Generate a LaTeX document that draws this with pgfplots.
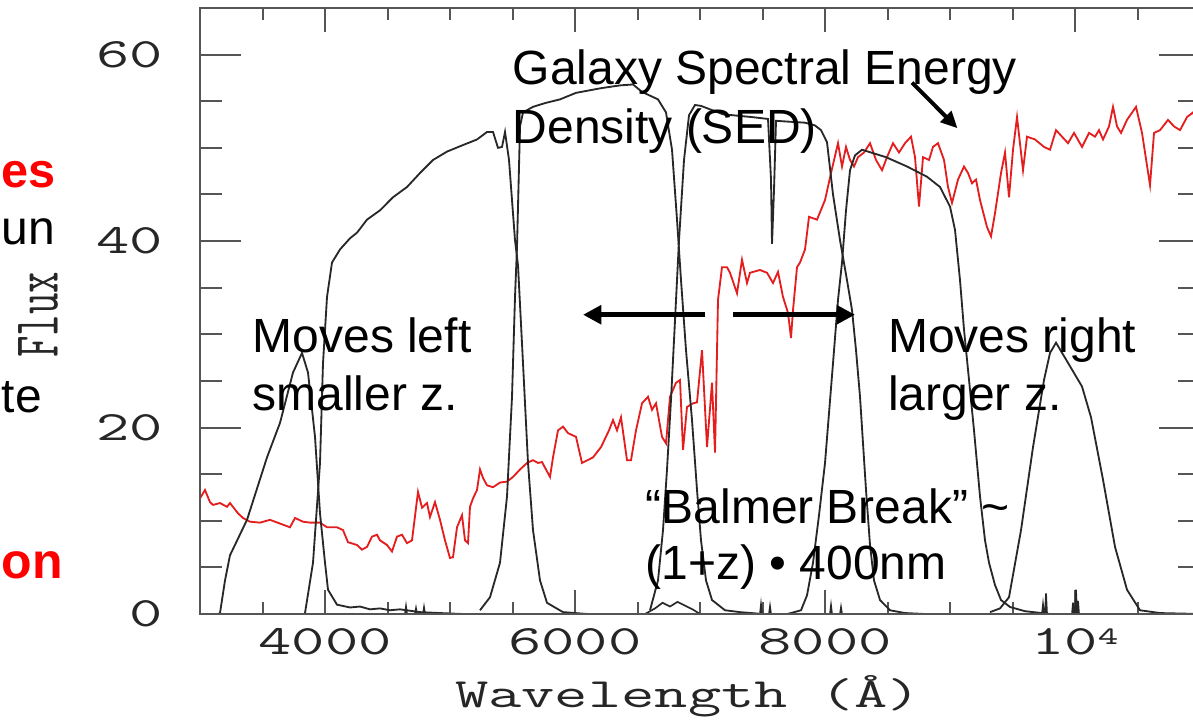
\documentclass[border=0pt]{standalone}
\usepackage{fontspec}
\setmainfont{Liberation Sans}
\usepackage{graphicx}
\usepackage{pgfplots}
\pgfplotsset{compat=1.18}
\usetikzlibrary{arrows.meta}

\definecolor{sedred}{RGB}{228,30,30}
\definecolor{framegray}{RGB}{85,85,85}
\definecolor{filt}{RGB}{40,40,40}

% plot-program lettering: wide serif typewriter
\newcommand\pgtext[1]{\scalebox{1.55}[1]{\ttfamily\fontsize{12.5}{13}\selectfont #1}}
\newcommand\pgsmall[1]{\scalebox{1.55}[1]{\ttfamily\fontsize{7.5}{8}\selectfont #1}}

\pgfplotsset{
  sedaxis/.style={
    scale only axis, width=300pt, height=181.8pt,
    xmin=3000, xmax=11000, ymin=0, ymax=65,
    scaled x ticks=false, scaled y ticks=false,
    at={(0,0)}, anchor=south west,
    axis line style={framegray, line width=0.7pt},
    tick style={framegray, line width=0.6pt},
    tick align=inside,
    ticklabel style={text=black!85},
  }
}

\begin{document}
\begin{tikzpicture}
% x ticks, data and notes
\begin{axis}[sedaxis,
  xtick={4000,6000,8000,10000},
  xticklabels={\pgtext{4000},\pgtext{6000},\pgtext{8000},{\pgtext{10}\raisebox{3pt}{\pgsmall{4}}}},
  minor xtick={3500,4500,5000,5500,6500,7000,7500,8500,9000,9500,10500},
  major tick length=7.2pt, minor tick length=3.6pt,
  ytick=\empty,
  xticklabel style={anchor=base, inner sep=0pt, yshift=-12.3pt},
]

% galaxy SED
\addplot[sedred, line width=0.55pt] coordinates {
(3000,12.4)(3040,13.3)(3080,12.0)(3104,11.7)(3160,11.9)(3216,11.5)(3240,11.9)(3304,10.8)(3344,10.3)(3400,9.9)
(3480,9.8)(3560,10.1)(3640,9.7)(3720,9.3)(3760,10.3)(3824,9.9)(3880,9.8)(3960,9.8)(4016,9.3)(4096,9.3)
(4144,9.0)(4184,7.7)(4256,7.4)(4296,6.9)(4336,7.2)(4376,8.3)(4416,8.5)(4440,7.9)(4496,7.4)(4536,6.7)
(4576,8.3)(4616,8.5)(4656,7.6)(4696,7.9)(4744,13.1)(4776,11.4)(4816,11.9)(4840,10.4)(4880,12.0)(4920,10.1)
(4960,7.9)(5000,6.0)(5024,6.1)(5056,9.3)(5096,10.6)(5120,7.9)(5144,7.6)(5160,11.5)(5184,12.4)(5216,13.3)
(5240,15.5)(5264,14.6)(5296,13.8)(5344,13.6)(5400,14.1)(5456,14.2)(5504,14.7)(5560,15.5)(5616,16.2)(5664,16.5)
(5704,16.2)(5736,16.3)(5760,15.7)(5800,14.7)(5824,16.8)(5864,19.7)(5904,20.1)(5944,19.4)(6008,19.0)(6056,16.2)
(6144,16.8)(6208,17.9)(6272,19.7)(6304,20.8)(6336,19.7)(6368,21.1)(6416,16.5)(6448,16.5)(6488,19.7)(6536,22.6)
(6584,23.3)(6616,21.9)(6648,22.6)(6696,19.0)(6728,18.3)(6760,23.3)(6808,24.8)(6840,25.1)(6864,17.6)(6896,22.2)
(6944,22.6)(6976,22.7)(7016,28.3)(7056,17.9)(7096,24.8)(7120,17.3)(7144,33.7)(7176,37.2)(7216,37.2)(7240,36.6)
(7296,34.4)(7336,38.0)(7376,35.5)(7400,36.6)(7480,36.9)(7536,36.6)(7584,35.5)(7624,36.7)(7664,34.0)(7704,32.3)
(7728,29.6)(7744,32.6)(7776,37.2)(7800,37.7)(7840,39.1)(7872,42.6)(7936,42.3)(8000,44.4)(8048,47.3)(8104,50.5)
(8136,48.0)(8168,50.1)(8200,48.7)(8232,48.0)(8264,49.0)(8312,49.5)(8360,50.5)(8408,48.7)(8456,47.6)(8496,49.0)
(8544,50.5)(8592,49.5)(8640,50.5)(8688,51.2)(8720,49.0)(8752,43.7)(8784,49.0)(8832,48.7)(8864,50.1)(8904,50.5)
(8952,48.7)(8984,45.8)(9016,44.1)(9064,46.6)(9112,48.0)(9144,47.3)(9176,46.2)(9208,46.6)(9240,44.4)(9296,41.5)
(9328,40.5)(9360,43.0)(9408,47.3)(9440,49.5)(9472,44.7)(9504,49.8)(9536,53.3)(9584,47.6)(9616,51.2)(9680,50.9)
(9752,50.1)(9800,49.8)(9848,51.9)(9896,51.2)(9944,50.5)(9992,51.6)(10056,50.1)(10112,51.6)(10160,51.2)(10192,51.9)
(10224,50.9)(10272,52.3)(10304,54.4)(10336,52.3)(10368,51.6)(10416,53.0)(10488,54.4)(10536,51.6)(10600,46.0)(10632,51.6)
(10680,51.9)(10744,53.0)(10792,52.3)(10840,51.9)(10896,53.3)(10944,53.8)(11000,51.9)
};

% filter curves
\addplot[filt, line width=0.55pt] coordinates {
(3144,0)(3160,0.1)(3200,3.6)(3240,6.3)(3376,10.1)(3536,16.8)(3640,20.5)(3744,25.9)(3816,28.0)(3864,25.9)
(3920,19.0)(3960,10.8)(4000,5.5)(4024,2.6)(4096,1.0)(4200,0.7)(4280,0.8)(4360,0.5)(4440,0.6)(4520,0.4)
(4600,0.5)(4760,0.2)(4920,0.1)(5100,0)
};
\addplot[filt, line width=0.55pt] coordinates {
(3840,0.1)(3904,5.5)(3960,16.2)(3984,26.9)(4016,34.0)(4056,37.7)(4120,39.1)(4200,40.3)(4256,40.9)(4336,42.3)
(4440,43.3)(4544,44.7)(4656,45.8)(4760,47.3)(4864,48.7)(4976,49.6)(5104,50.3)(5216,50.9)(5296,51.7)(5344,51.7)
(5384,50.0)(5416,50.1)(5440,51.7)(5472,48.7)(5496,44.4)(5520,40.1)(5544,37.4)(5584,26.9)(5624,16.2)(5664,9.0)
(5720,3.6)(5776,1.2)(5904,0.2)(6100,0)
};
\addplot[filt, line width=0.55pt] coordinates {
(5240,0.4)(5320,1.8)(5400,5.5)(5456,12.6)(5496,23.3)(5520,34.0)(5536,39.4)(5560,52.3)(5584,53.8)(5664,54.4)
(5760,54.8)(5880,55.2)(6008,55.9)(6208,56.4)(6360,56.7)(6464,56.8)(6536,56.0)(6600,55.6)(6664,55.2)(6728,53.8)
(6776,49.8)(6816,42.3)(6848,35.8)(6888,28.3)(6936,20.8)(6976,13.3)(7008,7.9)(7048,3.6)(7096,1.5)(7200,0.4)
(7320,0.2)(7500,0)
};
\addplot[filt, line width=0.55pt] coordinates {
(6600,0.4)(6664,3.6)(6704,9.0)(6736,15.5)(6768,23.0)(6800,31.5)(6832,40.1)(6872,48.7)(6912,53.5)(6960,54.6)
(7008,54.5)(7184,53.6)(7416,53.3)(7544,53.1)(7568,46.6)(7576,39.7)(7592,45.5)(7608,52.9)(7720,52.8)(7840,52.7)
(7920,52.4)(7968,51.9)(8016,50.6)(8064,45.0)(8120,40.1)(8176,35.8)(8216,32.6)(8248,28.3)(8280,23.3)(8328,13.3)
(8360,7.4)(8392,3.6)(8440,1.5)(8520,0.4)(8640,0.1)(8800,0)
};
\addplot[filt, line width=0.55pt] coordinates {
(7700,0)(7808,0.4)(7856,2.0)(7904,5.5)(7952,10.6)(8000,16.2)(8064,26.9)(8104,33.7)(8136,37.7)(8168,43.3)
(8200,47.6)(8240,49.2)(8296,49.8)(8344,49.6)(8488,49.0)(8656,48.0)(8816,46.9)(8920,45.8)(9000,43.7)(9040,41.2)
(9080,35.8)(9112,30.5)(9144,26.2)(9192,19.7)(9240,12.6)(9280,7.9)(9312,5.5)(9360,3.1)(9408,1.5)(9480,0.75)
(9600,0.3)(9800,0)
};
\addplot[filt, line width=0.55pt] coordinates {
(9320,0.2)(9400,0.6)(9472,1.8)(9568,9.0)(9664,17.9)(9752,25.1)(9800,28.0)(9848,29.1)(9928,27.3)(10056,24.4)
(10128,21.1)(10224,14.4)(10320,7.2)(10416,2.6)(10520,0.4)(10680,0.1)(11000,0)
};
% small leaks and spikes near zero
\addplot[filt, line width=0.5pt] coordinates {
(6560,0)(6640,0.6)(6700,1.2)(6760,0.8)(6820,1.3)(6880,0.9)(6940,0.5)(7000,0)
};
\addplot[filt, line width=0.5pt] coordinates {
(4640,0)(4648,0.8)(4656,0)(4720,0)(4728,0.6)(4736,0)(4784,0)(4792,0.7)(4800,0)
(7480,0)(7488,1.0)(7496,0)(7552,0)(7560,0.8)(7568,0)
(8040,0)(8048,0.9)(8056,0)(8120,0)(8128,0.7)(8136,0)
(9736,0)(9744,1.0)(9752,0)(9760,0)(9768,2.2)(9776,0)(9976,0)(9984,1.2)(9992,0)(10000,0)(10008,2.6)(10016,0)(10024,1.4)(10032,0)
};

% annotations
\begin{scope}[every node/.style={inner sep=0pt, anchor=base west, font=\fontsize{14.4}{17}\selectfont}]
\node at (axis cs:5496,56.8) {Galaxy Spectral Energy};
\node at (axis cs:5496,50.5) {Density (SED)};
\node at (axis cs:3416,28.0) {Moves left};
\node at (axis cs:3416,21.8) {smaller z.};
\node at (axis cs:8500,28.0) {Moves right};
\node at (axis cs:8500,21.8) {larger z.};
\node at (axis cs:6560,9.7) {“Balmer Break” \textasciitilde};
\node at (axis cs:6560,3.7) {(1+z) • 400nm};
\end{scope}
\draw[line width=1.5pt, -{Triangle[length=5.5pt,width=5.5pt]}] (axis cs:7040,32.1) -- (axis cs:6064,32.1);
\draw[line width=1.5pt, -{Triangle[length=5.5pt,width=5.5pt]}] (axis cs:7264,32.1) -- (axis cs:8240,32.1);
\draw[line width=1.2pt, -{Triangle[length=5pt,width=4.5pt]}] (axis cs:8696,57.0) -- (axis cs:9060,52.1);
\end{axis}

% y ticks with their own lengths
\begin{axis}[sedaxis,
  xtick=\empty,
  ytick={0,20,40,60}, yticklabels={\pgtext{0},\pgtext{20},\pgtext{40},\pgtext{60}},
  minor ytick={5,10,15,25,30,35,45,50,55},
  major tick length=12.3pt, minor tick length=6.6pt,
  yticklabel style={anchor=east, inner sep=0pt, xshift=-11pt},
]
\end{axis}

% axis titles
\node[anchor=base, inner sep=0pt, text=black!85] at (146.4pt,-28.2pt) {\pgtext{Wavelength (Å)}};
\node[rotate=90, inner sep=0pt, text=black!85] at (-48.6pt,89.7pt) {\scalebox{1}[1.55]{\ttfamily\fontsize{12.5}{13}\selectfont Flux}};

% slide text fragments at the left edge
\begin{scope}[every node/.style={anchor=base west, inner sep=0pt}]
\node[text=red, font=\bfseries\fontsize{14.6}{17}\selectfont] at (-59.7pt,127.8pt) {es};
\node[font=\fontsize{14.4}{17}\selectfont] at (-59.7pt,110.7pt) {un};
\node[font=\fontsize{14.4}{17}\selectfont] at (-59.7pt,60.3pt) {te};
\node[text=red, font=\bfseries\fontsize{15}{17}\selectfont] at (-59.7pt,10.5pt) {on};
\end{scope}

\pgfresetboundingbox
\path[use as bounding box] (-60pt,-31.8pt) rectangle (297.9pt,184.2pt);
\end{tikzpicture}
\end{document}
